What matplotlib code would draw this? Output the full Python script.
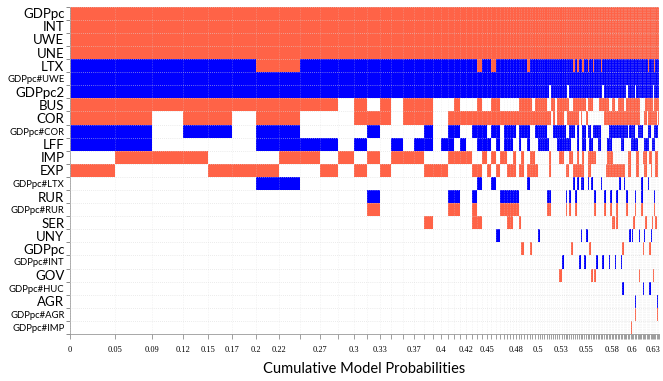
import numpy as np
import matplotlib
matplotlib.use("Agg")
import matplotlib.pyplot as plt

# variables top to bottom
variables = ["GDPpc", "INT", "UWE", "UNE", "LTX", "GDPpc#UWE", "GDPpc2", "BUS", "COR",
             "GDPpc#COR", "LFF", "IMP", "EXP", "GDPpc#LTX", "RUR", "GDPpc#RUR", "SER",
             "UNY", "GDPpc", "GDPpc#INT", "GOV", "GDPpc#HUC", "AGR", "GDPpc#AGR", "GDPpc#IMP"]

# posterior model probabilities (sorted, best model first)
model_probs = [
    0.048, 0.0398, 0.0339, 0.0266, 0.026, 0.025, 0.0248, 0.0232, 0.0213, 0.0188,
    0.0178, 0.0142, 0.0133, 0.0125, 0.0124, 0.0118, 0.0106, 0.0096, 0.0089, 0.0072,
    0.0071, 0.0064, 0.0061, 0.006, 0.0056, 0.0054, 0.0053, 0.005, 0.0047, 0.0046, 0.0043,
    0.0032, 0.0032, 0.0031, 0.0031, 0.003, 0.003, 0.003, 0.0029, 0.0029, 0.0029, 0.0028, 0.0028,
    0.0025, 0.0025, 0.0024, 0.0024, 0.0024, 0.0023, 0.0023, 0.0023, 0.0022, 0.0022,
    0.0022, 0.0022, 0.0021, 0.0021, 0.0021, 0.0021, 0.0020, 0.0020, 0.0020, 0.0020,
    0.0019, 0.0019, 0.0019, 0.0019, 0.0019, 0.0018, 0.0018, 0.0018, 0.0018, 0.0018,
    0.0017, 0.0017, 0.0017, 0.0017, 0.0017, 0.0017, 0.0017, 0.0017,
    0.0016, 0.0016, 0.0016, 0.0016, 0.0016, 0.0016, 0.0016, 0.0016, 0.0016, 0.0016,
    0.0015, 0.0015, 0.0015, 0.0015, 0.0015, 0.0015, 0.0015, 0.0015, 0.0015, 0.0015,
    0.0014, 0.0014, 0.0014, 0.0014, 0.0014, 0.0014, 0.0014, 0.0014, 0.0014,
    0.0013, 0.0013, 0.0013, 0.0013, 0.0013, 0.0013, 0.0013, 0.0013,
]

# coefficient sign per model: '+' positive, '-' negative, '.' not included
signs = [
    "++++++++++ ++++++++++ +++++++++++ ++++++++++++ ++++++++++ ++++++++++ ++++++++++ ++++++++++ ++++++++++ ++++++++++ ++++++++++ +++++",
    "++++++++++ ++++++++++ +++++++++++ ++++++++++++ ++++++++++ ++++++++++ ++++++++++ ++++++++++ ++++++++++ ++++++++++ ++++++++++ +++++",
    "++++++++++ ++++++++++ +++++++++++ ++++++++++++ ++++++++++ ++++++++++ ++++++++++ ++++++++++ ++++++++++ ++++++++++ ++++++++++ +++++",
    "++++++++++ ++++++++++ +++++++++++ ++++++++++++ ++++++++++ ++++++++++ ++++++++++ ++++++++++ ++++++++++ ++++++++++ ++++++++++ +++++",
    "------++-- ---------- -----+--+-- --------+--- ---------- -------+-+ --+--+--+- ---+------ ---------- ---------- ------+--- -+---",
    "---------- ---------- ----------- ------------ ---------- ---------- ---------- ---------- ---------- ---------- ---------- -----",
    "---------- ---------- ----------- ------------ -----.---- ----.----- ---------- ----.----- ---------- .-----.--- ---------- .----",
    "++++++++++ .+.+.+++.. .+...+..++. .....+++++.+ ++++..++.+ +++++..+++ ++++.+++.. ..++++++.. ++..++++.. ++++++++++ ....++++++ .++++",
    "++.++.++.. .+++.+++.. +++++++++++ ++++++++++++ ++++++.+.+ ++..++++++ .+..+..... .....+++++ ++++++++++ ++++++++++ ...++.++++ +++.+",
    "--.--.--.. ..-....-.. --..---.--. ----.----..- ----...--- ---..---.- ..--.--.-- ---.....-- ---------- -.----..-- --....--.. .---.",
    "--....---- .-..-.--.- -.-..---.-. ---..-..-... -----....- ------...- ..--..--.. .--....--- ......--.. ...-----.. ...----..- --...",
    ".+++...++. +.+.+++... ++++..+.+.+ +..+..+..++. .....+.... ++...++..+ ..+..+++++ .......+++ +......... .++....++. ..+++..++. ..++.",
    "+...+++..+ .+.+...+++ ....++.+.+. .+++.++.++++ .....+.... ...++..+++ +++..++... ......++++ +++++++++. .++....++. ...++...+. ..++.",
    "......--.. .......... .....-..-.. ........-... .......... .......-.- .--..-.-.. ...-...... .....-..-. .......... .-....-... .....",
    ".......... ..-....... --..-.....- -----....... ....--.... ...-.-..-. .........- .....-...- ...-...... -.....-... .-........ .-...",
    ".......... ..+....... ++..+.....+ +++++....... ....++.... ...+.+..+. .........+ .....+...+ ...+...... +.....+... .+........ .+...",
    ".......... .......+.. ....++..... .++..+...... .......... .......... .......... .......... ++.+...... .....+.... ....+....+ ..+..",
    ".......... .......... .........-. ............ -......... .......... .-..-..... .......... .......... ..-.-....- ...-....-. .....",
    ".......... .......... ........... ......+..+.. .......... ......+... ......+... .......... .......+.. .......... ..+....+.. .....",
    ".......... .......... ........... ............ .......... .-........ -..-...... -...-...-. ..-...-... .......... .......... .....",
    ".......... .......... ........... ............ .......... +......... .......+.+ .......... .......... .........+ .......... +....",
    ".......... .......... ........... ............ .......... .......... .......... .......... .......-.. .......... ..-....-.. .....",
    ".......... .......... ........... ............ .......... .......... .......... .......... .......... ......-... .......... ...-.",
    ".......... .......... ........... ............ .......... .......... .......... .......... .......... ......+... .......... ...+.",
    ".......... .......... ........... ............ .......... .......... .......... .......... .......... ...+...... .......... .....",
]

# labelled x ticks: index of model boundary and its text
label_idx = [0, 1, 2, 3, 4, 5, 6, 7, 9, 11, 13, 16, 19, 23, 27, 35, 43, 54, 67, 83, 97, 113]
label_txt = ["0", "0.05", "0.09", "0.12", "0.15", "0.17", "0.2", "0.22", "0.27", "0.3", "0.33",
             "0.37", "0.4", "0.42", "0.45", "0.48", "0.5", "0.53", "0.55", "0.58", "0.6", "0.63"]

signs = [s.replace(" ", "") for s in signs]
n_models = len(model_probs)
n_rows = len(variables)
for s in signs:
    assert len(s) == n_models, len(s)

widths = np.array(model_probs)
bounds = np.concatenate([[0], np.cumsum(widths)])
lefts = bounds[:-1]
total = bounds[-1]

fig = plt.figure(figsize=(6.63, 3.81), dpi=100)
ax = fig.add_axes([70 / 663, 1 - 334 / 381, 589 / 663, (334 - 6.7) / 381])

for r, s in enumerate(signs):
    y = n_rows - 1 - r
    pos = [(lefts[k], widths[k]) for k, c in enumerate(s) if c == "+"]
    neg = [(lefts[k], widths[k]) for k, c in enumerate(s) if c == "-"]
    if pos:
        ax.broken_barh(pos, (y, 1), facecolors="tomato", linewidth=0, zorder=2)
    if neg:
        ax.broken_barh(neg, (y, 1), facecolors="blue", linewidth=0, zorder=2)

# dotted grid over the cells
ax.vlines(bounds, 0, n_rows, colors="#d8d8d8", linestyles=(0, (1, 2)), linewidth=0.4,
          alpha=0.7, zorder=3)
ax.hlines(np.arange(n_rows + 1), 0, total, colors="#d8d8d8", linestyles=(0, (1, 2)),
          linewidth=0.5, zorder=3)

ax.set_xlim(0, total)
ax.set_ylim(0, n_rows)

for sp in ["top", "right"]:
    ax.spines[sp].set_visible(False)
for sp in ["left", "bottom"]:
    ax.spines[sp].set_color("#999999")
    ax.spines[sp].set_linewidth(0.6)

xlabels = [""] * len(bounds)
for i, t in zip(label_idx, label_txt):
    xlabels[i] = t
ax.set_xticks(bounds)
ax.set_xticklabels(xlabels, fontsize=6, family="Liberation Serif")
ax.tick_params(axis="x", length=3.5, width=0.5, color="#777777", pad=5)

centers = n_rows - 0.5 - np.arange(n_rows)
ax.set_yticks(centers)
ax.set_yticklabels(variables, family="Lato")
for t, name in zip(ax.get_yticklabels(), variables):
    t.set_fontsize(6.8 if "#" in name else 9.5)
ax.set_yticks(np.arange(n_rows + 1), minor=True)
ax.tick_params(axis="y", which="major", length=0, pad=4)
ax.tick_params(axis="y", which="minor", length=3, width=0.6, color="#777777")

fig.text(364 / 663, 1 - 369 / 381, "Cumulative Model Probabilities", ha="center", va="center",
         fontsize=10.5, family="Lato")

fig.savefig("out.png", dpi=100)
